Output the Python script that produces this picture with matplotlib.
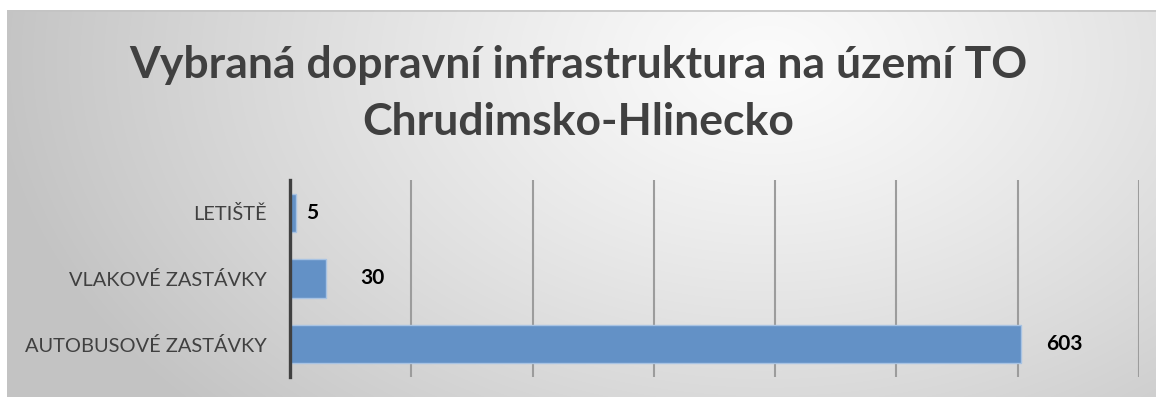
import numpy as np
import matplotlib.pyplot as plt

# data
categories = ['LETIŠTĚ', 'VLAKOVÉ ZASTÁVKY', 'AUTOBUSOVÉ ZASTÁVKY']
values = [5, 30, 603]
label_offsets = [10, 34, 25]  # px right of bar end
title_lines = ['Vybraná dopravní infrastruktura na území TO', 'Chrudimsko-Hlinecko']

plt.rcParams['font.family'] = ['Lato', 'DejaVu Sans']

fig = plt.figure(figsize=(11.56, 4.0), dpi=100)
fig.patch.set_facecolor('white')

# radial gradient background of the chart frame
bg = fig.add_axes([7 / 1156, 3 / 400, 1149 / 1156, 387 / 400])
W, H = 1149, 387
xx, yy = np.meshgrid(np.arange(W), np.arange(H))
d = np.sqrt(((xx - 760) / 780.0) ** 2 + ((yy - 50) / 520.0) ** 2)
shade = 0.985 - 0.22 * np.clip(d, 0, 1) ** 1.2
bg.imshow(np.dstack([shade] * 3), aspect='auto', extent=[0, W, H, 0], zorder=0)
bg.set_xlim(0, W)
bg.set_ylim(H, 0)
bg.axis('off')
bg.plot([0, W], [0.5, 0.5], color='#c4c4c4', lw=1.2, solid_capstyle='butt')

ax = fig.add_axes([290 / 1156, 23 / 400, 849 / 1156, 197 / 400])
ax.patch.set_alpha(0)

y = np.arange(len(categories))
ax.barh(y, values, height=0.58, color='#6391c6', edgecolor='#a8c3e3', linewidth=1.0, zorder=3)
ax.set_xlim(0, 700)
ax.set_ylim(len(categories) - 0.5, -0.5)
ax.set_xticks(np.arange(0, 701, 100))
ax.xaxis.grid(True, color='#9c9c9c', linewidth=1.5, zorder=0)
ax.tick_params(axis='x', length=0, labelbottom=False)
ax.tick_params(axis='y', length=0, pad=17)
ax.set_yticks(y)
ax.set_yticklabels(categories, fontsize=14.4, color='#404040')

for s in ['top', 'right', 'bottom']:
    ax.spines[s].set_visible(False)
ax.spines['left'].set_color('#404040')
ax.spines['left'].set_linewidth(2.4)
ax.spines['left'].set_zorder(4)

for yi, v, off in zip(y, values, label_offsets):
    ax.annotate(str(v), xy=(v, yi), xytext=(off * 0.72, 0), textcoords='offset points',
                ha='left', va='center', fontsize=15, fontweight='bold', color='black')

for line, yb in zip(title_lines, [0.805, 0.6625]):
    fig.text(0.5, yb, line, ha='center', va='baseline', fontsize=32, fontweight='bold',
             color='#404040')

fig.savefig('out.png', dpi=100)
